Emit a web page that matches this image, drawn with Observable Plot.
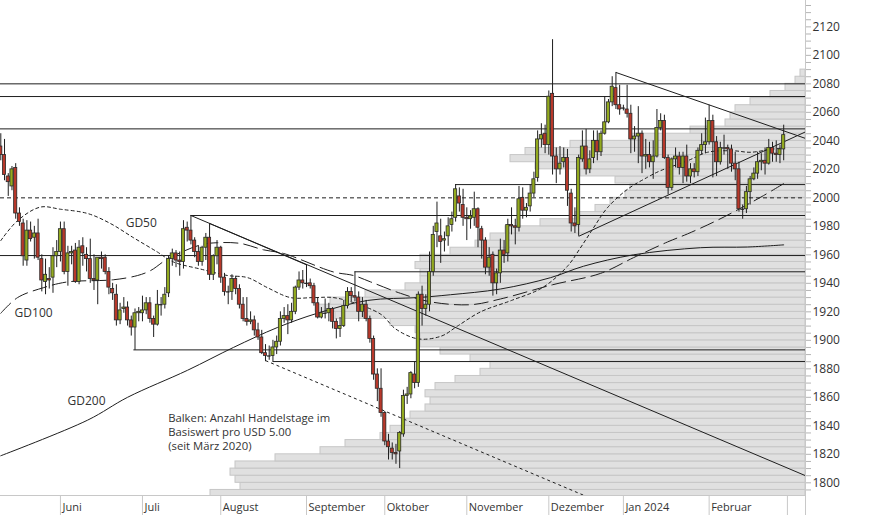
<!DOCTYPE html>
<html><head><meta charset="utf-8">
<script src="https://cdn.jsdelivr.net/npm/d3@7"></script>
<script src="https://cdn.jsdelivr.net/npm/@observablehq/plot@0.6"></script>
<style>
html,body{margin:0;padding:0;background:#fff;}
#chart{position:relative;width:874px;height:515px;overflow:hidden;}
#chart svg{position:absolute;left:0;top:0;max-width:none;}
</style></head><body><div id="chart"></div>
<script>
// ---- candles: trading-day index 0 = 10 May 2023 ... 210 = 29 Feb 2024 ----
const open = [2036,2030,2015,2008,2021,1989,1982,1956,1977,1972,
 1975,1957,1941,1943,1944,1959,1962,1978,1948,1961,
 1963,1941,1966,1960,1957,1943,1942,1958,1958,1948,
 1936,1932,1914,1922,1923,1914,1909,1919,1919,1921,
 1926,1915,1911,1925,1925,1933,1957,1961,1956,1955,
 1979,1977,1970,1962,1955,1965,1972,1946,1959,1965,
 1944,1934,1934,1943,1936,1925,1915,1913,1914,1907,
 1902,1891,1889,1889,1895,1899,1915,1917,1914,1920,
 1937,1942,1940,1940,1938,1926,1916,1919,1919,1922,
 1913,1908,1910,1924,1934,1931,1930,1920,1925,1915,
 1901,1876,1866,1849,1829,1824,1821,1822,1834,1861,
 1862,1876,1870,1932,1922,1925,1948,1976,1973,1970,
 1973,1981,1986,2001,1995,1986,1985,1986,1992,1978,
 1970,1951,1960,1940,1947,1963,1961,1981,1980,1979,
 2000,1991,1994,2003,2014,2041,2045,2037,2073,2029,
 2020,2025,2028,2003,1982,1981,2027,2036,2020,2028,
 2040,2032,2045,2053,2067,2077,2065,2063,2062,2059,
 2041,2043,2045,2029,2030,2025,2029,2049,2054,2028,
 2007,2027,2029,2021,2029,2015,2020,2018,2033,2037,
 2039,2054,2039,2025,2035,2035,2034,2024,2020,1992,
 1992,2004,2013,2017,2025,2026,2024,2035,2031,2030,
 2034];
const high = [2045,2041,2017,2022,2024,1993,1985,1984,1983,1980,
 1985,1960,1957,1951,1965,1970,1983,1983,1966,1966,
 1968,1970,1972,1965,1971,1960,1958,1962,1960,1951,
 1940,1939,1926,1930,1927,1917,1922,1923,1931,1930,
 1930,1917,1935,1930,1937,1959,1964,1963,1962,1984,
 1983,1987.6,1972,1966,1966,1975,1982,1960,1970,1966,
 1947,1938,1946,1945,1939,1930,1930,1920,1917,1912,
 1907,1897,1896,1900,1903,1920,1923,1925,1926,1938,
 1948,1949,1953,1943,1940,1930,1923,1929,1926,1923,
 1915,1916,1928,1937,1937,1948,1934,1930,1928,1917,
 1903,1880,1880,1850,1834,1828,1827,1836,1865,1867,
 1878,1885,1934,1938,1932,1962,1980,1997,1985,1976,
 1986,1990,2009.3,2007,2006,1993,1991,2004,1993,1980,
 1972,1965,1962,1950,1971,1970,1985,1993,1985,2008,
 2007,1996,2009,2018,2047,2052,2051,2075,2111,2035,
 2036,2035,2034,2006,1993,2030,2047,2048,2033,2047,
 2047,2047,2071,2069,2085,2088,2079,2065,2079,2065,
 2050,2064,2047,2041,2039,2040,2062,2059,2058,2030,
 2028,2035,2032,2032,2037,2024,2024,2035,2045,2056,
 2065,2058,2043,2039,2044,2037,2037,2032,2025,1995,
 2008,2015,2021,2032,2031,2035,2041,2039,2040,2037,
 2051];
const low = [2026,2012,2001,2005,1985,1980,1952,1952,1969,1957,
 1956,1934,1932,1936,1933,1951,1955,1946,1938,1953,
 1940,1939,1952,1948,1940,1935,1925,1950,1946,1932,
 1928,1910,1911,1919,1910,1903,1893,1913,1913,1918,
 1912,1902,1910,1917,1922,1930,1952,1951,1945,1950,
 1969,1967,1958,1952,1952,1956,1942,1942,1953,1940,
 1931,1925,1928,1932,1922,1913,1910,1911,1903,1900,
 1890,1885,1886,1885,1890,1896,1912,1904,1912,1918,
 1935,1936,1937,1936,1924,1915,1915,1915,1913,1908,
 1901,1902,1909,1922,1927,1927,1913,1916,1913,1898,
 1872,1857,1846,1826,1816,1816,1813,1810,1832,1855,
 1859,1866,1867,1910,1917,1920,1945,1965,1954,1962,
 1966,1976,1983,1990,1980,1970,1978,1980,1965,1957,
 1946,1945,1931,1932,1940,1954,1955,1974,1967,1976,
 1985,1986,1990,2000,2011,2035,2031,2030,2016,2010,
 2016,2021,1994,1976,1975,1973,2025,2016,2017,2024,
 2026,2029,2044,2052,2064,2062,2058,2061,2056,2031,
 2032,2024,2017,2020,2021,2013,2028,2047,2027,2002,
 2005,2021,2016,2010,2011,2010,2014,2015,2030,2031,
 2037,2014,2015,2023,2030,2020,2018,2012,1990,1985,
 1989,1995,2012,2013,2019,2016,2023,2025,2025,2024,
 2026];
const close = [2030,2016,2011,2020,1989,1983,1959,1977,1971,1975,
 1958,1942,1946,1942,1959,1962,1978,1948,1961,1962,
 1941,1965,1961,1957,1943,1942,1958,1957,1948,1937,
 1933,1914,1921,1923,1914,1909,1919,1920,1921,1926,
 1915,1911,1925,1925,1932,1957,1961,1956,1955,1978,
 1977,1970,1962,1955,1965,1972,1946,1959,1965,1944,
 1934,1934,1943,1936,1925,1915,1913,1914,1907,1902,
 1891,1889,1889,1895,1899,1915,1917,1914,1920,1937,
 1942,1940,1940,1938,1926,1916,1919,1919,1922,1913,
 1908,1910,1924,1934,1931,1930,1920,1925,1915,1901,
 1876,1866,1849,1829,1825,1821,1820,1835,1861,1862,
 1877,1870,1932,1922,1925,1948,1974,1982,1969,1971,
 1980,1985,2006,1996,1986,1985,1987,1992,1979,1970,
 1951,1958,1940,1947,1963,1960,1981,1980,1979,1999,
 1991,1993,2003,2013,2041,2044,2037,2071,2029,2020,
 2024,2028,2005,1982,1980,2028,2036,2020,2027,2040,
 2032,2045,2053,2067,2078,2065,2062,2063,2059,2041,
 2043,2045,2029,2030,2025,2029,2049,2054,2028,2007,
 2027,2029,2021,2029,2015,2020,2018,2033,2037,2039,
 2054,2039,2025,2035,2035,2034,2024,2020,1992,1992,
 2004,2013,2017,2025,2026,2024,2035,2031,2030,2034,
 2044];

// ---- month axis (trading-day index of first day of month) ----
const monthTickIdx = [16, 38, 59, 82, 103, 125, 147, 167, 190];
const monthLabels = ["Juni","Juli","August","September","Oktober","November","Dezember","Jan 2024","Februar"];
const monthSeparatorIdx = [16, 38, 59, 82, 103, 125, 147, 167, 190, 211];
const yTickValues = [1800,1820,1840,1860,1880,1900,1920,1940,1960,1980,2000,2020,2040,2060,2080,2100,2120];

// ---- volume profile: trading days per USD 5 bin (since March 2020) ----
const profileBin = [1790,1795,1800,1805,1810,1815,1820,1825,1830,1835,
 1840,1845,1850,1855,1860,1865,1870,1875,1880,1885,
 1890,1895,1900,1905,1910,1915,1920,1925,1930,1935,
 1940,1945,1950,1955,1960,1965,1970,1975,1980,1985,
 1990,1995,2000,2005,2010,2015,2020,2025,2030,2035,
 2040,2045,2050,2055,2060,2065,2070,2075,2080,2085];
const profileDays = [119,113,114,115,114,106,97,92,85,83,
 80,79,76,75,76,74,70,65,63,67,
 73,77,77,78,83,94,98,95,88,80,
 77,77,78,77,71,66,63,60,53,46,
 42,39,36,35,38,45,54,59,56,47,
 35,23,16,15,14,11,7,4,2,1];

// ---- horizontal support / resistance lines ----
const levelValue = [2080.0, 2071.1, 2048.4, 2009.3, 1987.6, 1959.5, 1948.1, 1893.3, 1885.1];
const levelFromIdx = [-0.08, -0.08, -0.08, 122, 51, -0.08, 95, 35.7, 73];
const dottedLevel = [2000];

// ---- trend lines (index, price) ----
const trendSolid = [
  {x1: 51, y1: 1987.6, x2: 215.85, y2: 1805},
  {x1: 56, y1: 1982, x2: 82, y2: 1953},
  {x1: 155, y1: 1973, x2: 215.85, y2: 2046.3},
  {x1: 165, y1: 2088, x2: 215.85, y2: 2041.7}
];
const trendDashed = [{x1: 71, y1: 1885.8, x2: 156.5, y2: 1791.1}];

// ---- moving averages ----
const gd50Idx = [0,4.5,10.6,16,23.3,29.4,35.6,42,46.3,53.6,60.8,66.2,71.5,77.7,83.9,89.2,95.1,102.1,105.9,112,118.2,122.5,128.7,137,145.3,152,155.5,159,162.7,168.1,173.5,176.9,184.2,189.6,196.5,201.1,206.5,210];
const gd50Val = [1970,1984,1993.5,1992,1989,1982,1972,1962,1955,1950,1945.5,1944,1937,1930,1930,1930,1926,1918,1908,1901,1903,1910,1920,1928,1937,1952,1965,1979,1993,2006,2014.5,2019,2026,2032,2033,2032,2034,2035];
const gd100Idx = [0,4.5,11.5,17.9,30.2,36.7,40.2,44.7,53.6,58.1,64.3,70.5,75.8,89.2,94.6,99.2,107.2,115.3,126,134,148,160.9,169.7,178.8,184.2,191.2,196.5,204.6,210];
const gd100Val = [1919,1930,1937,1941,1942.5,1945.5,1949,1957,1967,1968.5,1968,1963.5,1961,1948,1945.5,1941,1933,1927,1925,1929,1939,1947,1958,1969,1974.7,1983,1990,2001.6,2010];
const gd200Idx = [0,23.3,34,50.1,62.4,74.2,84.9,98.4,111.8,120.6,134,147.5,156.3,169.7,187.7,200.3,210];
const gd200Val = [1819,1844,1860,1879,1895,1909,1919,1928,1930,1932,1936,1944,1952,1960,1965,1965.5,1967];

// ---- labels ----
const gdLabels = [
  {t: "GD50", i: 33.5, v: 1982},
  {t: "GD100", i: 3.7, v: 1919.2},
  {t: "GD200", i: 17.9, v: 1857.4}
];
const noteLines = [
  {t: "Balken: Anzahl Handelstage im", v: 1845.3},
  {t: "Basiswert pro USD 5.00", v: 1835.4},
  {t: "(seit März 2020)", v: 1825.6}
];
const noteIdx = 44.9;

// ---- layout / style ----
const W = 874, H = 515;
const M = {left: 0, right: 69, top: 0, bottom: 20};
const xDomain = [-0.08, 215.85];
const yDomain = [1791.1, 2138.5];
const FONT = "'Open Sans', sans-serif";
const GREEN = "#93aa1f", RED = "#b8382a", INK = "#1e1e1e";
const GRID = "#c8c8c8";

const candles = open.map((o, i) => ({i, o, h: high[i], l: low[i], c: close[i]}));
const bodies = candles.filter(d => d.o !== d.c);
const dojis = candles.filter(d => d.o === d.c);
const profile = profileBin.map((b, k) => ({b, days: profileDays[k]}));
const levels = levelValue.map((v, k) => ({v, from: levelFromIdx[k]}));
const gd50 = gd50Idx.map((i, k) => ({i, v: gd50Val[k]}));
const gd100 = gd100Idx.map((i, k) => ({i, v: gd100Val[k]}));
const gd200 = gd200Idx.map((i, k) => ({i, v: gd200Val[k]}));
const minorTicks = d3.range(1795, 2136, 5);

const profilePlot = Plot.plot({
  width: W, height: H,
  marginLeft: M.left, marginRight: M.right, marginTop: M.top, marginBottom: M.bottom,
  style: {background: "transparent"},
  x: {domain: [0, 161], range: [805, 0], axis: null},
  y: {domain: yDomain, axis: null},
  marks: [
    Plot.rect(profile, {x1: 0, x2: "days", y1: "b", y2: d => d.b + 5,
      fill: "#e0e0e0", stroke: "#c6c6c6", strokeWidth: 1, clip: true})
  ]
});

const mainPlot = Plot.plot({
  width: W, height: H,
  marginLeft: M.left, marginRight: M.right, marginTop: M.top, marginBottom: M.bottom,
  style: {background: "transparent", fontFamily: FONT, overflow: "visible"},
  x: {domain: xDomain},
  y: {domain: yDomain},
  marks: [
    Plot.ruleY([yDomain[0]], {stroke: GRID}),
    Plot.ruleX([xDomain[1]], {stroke: GRID}),
    Plot.ruleY(levels, {y: "v", x1: "from", x2: xDomain[1], stroke: INK, strokeWidth: 1, clip: true}),
    Plot.ruleY(dottedLevel, {x1: xDomain[0], x2: xDomain[1], stroke: INK, strokeDasharray: "4,3"}),
    Plot.link(trendSolid, {x1: "x1", y1: "y1", x2: "x2", y2: "y2", stroke: INK, strokeWidth: 1, clip: true}),
    Plot.link(trendDashed, {x1: "x1", y1: "y1", x2: "x2", y2: "y2", stroke: INK, strokeWidth: 1, strokeDasharray: "3,3", clip: true}),
    Plot.line(gd200, {x: "i", y: "v", curve: "catmull-rom", stroke: INK, strokeWidth: 1, clip: true}),
    Plot.line(gd100, {x: "i", y: "v", curve: "catmull-rom", stroke: INK, strokeWidth: 1, strokeDasharray: "14,6", clip: true}),
    Plot.line(gd50, {x: "i", y: "v", curve: "catmull-rom", stroke: INK, strokeWidth: 1, strokeDasharray: "3,3", clip: true}),
    Plot.ruleX(candles, {x: "i", y1: "l", y2: "h", stroke: INK, strokeWidth: 1, clip: true}),
    Plot.rect(bodies, {x1: d => d.i - 0.42, x2: d => d.i + 0.42, y1: "o", y2: "c",
      fill: d => d.c > d.o ? GREEN : RED, stroke: "#2a2a2a", strokeWidth: 0.8, clip: true}),
    Plot.ruleY(dojis, {y: "c", x1: d => d.i - 0.5, x2: d => d.i + 0.5, stroke: INK, strokeWidth: 1.2, clip: true}),
    Plot.text(gdLabels, {x: "i", y: "v", text: "t", textAnchor: "start", fontSize: 12, fill: "#333", fontFamily: FONT}),
    Plot.text(noteLines, {x: noteIdx, y: "v", text: "t", textAnchor: "start", fontSize: 11.3, fill: "#333", fontFamily: FONT}),
    Plot.axisY({anchor: "right", ticks: minorTicks, tickSize: 5, tickFormat: () => "", color: "#b4b4b4"}),
    Plot.axisY({anchor: "right", ticks: yTickValues, tickSize: 0, tickPadding: 7, tickFormat: d => String(d),
      color: "#333", fontSize: 12, fontFamily: FONT}),
    Plot.axisX({anchor: "bottom", ticks: monthSeparatorIdx.concat([xDomain[1]]), tickSize: 20, tickFormat: () => "", color: GRID}),
    Plot.axisX({anchor: "bottom", ticks: monthTickIdx, tickSize: 0, tickPadding: 8,
      tickFormat: d => monthLabels[monthTickIdx.indexOf(d)], textAnchor: "start", dx: 2,
      color: "#333", fontSize: 11, fontFamily: FONT})
  ]
});

const root = document.getElementById("chart");
root.appendChild(profilePlot);
root.appendChild(mainPlot);
</script>
</body></html>
